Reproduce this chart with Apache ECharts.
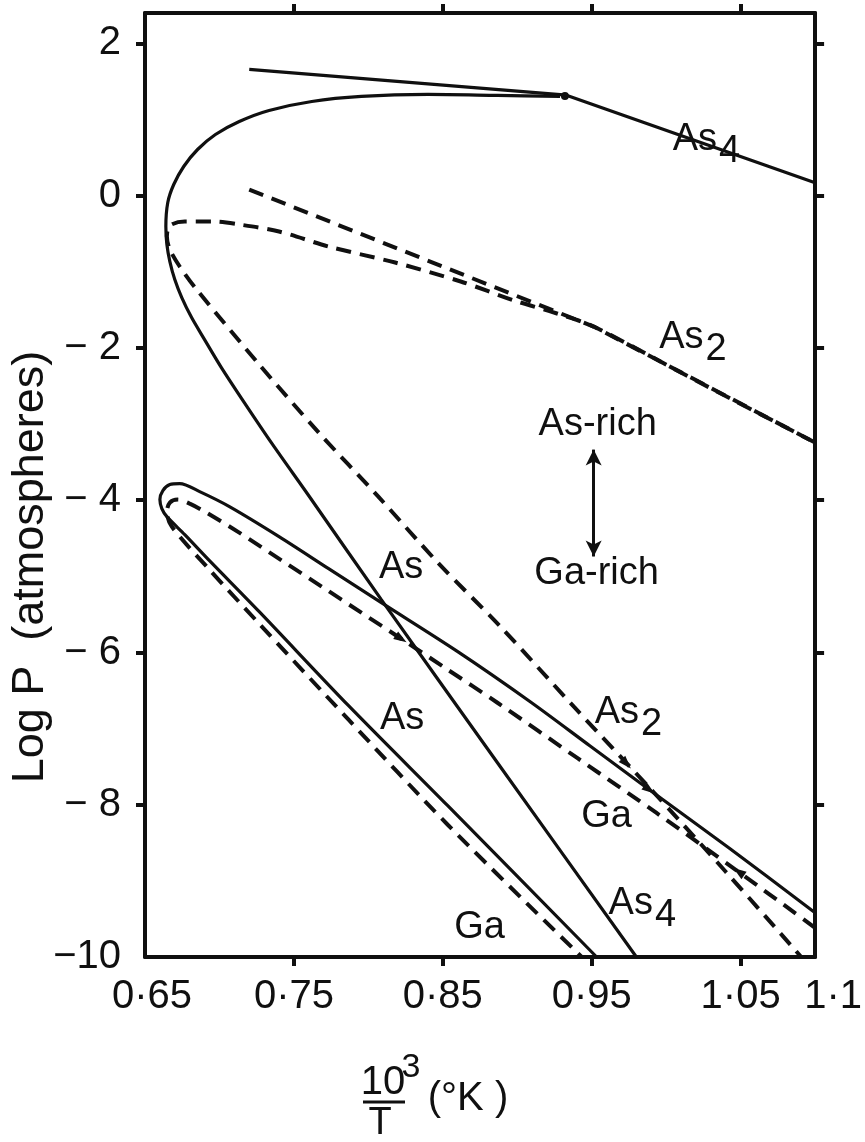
<!DOCTYPE html>
<html>
<head>
<meta charset="utf-8">
<script src="https://cdn.jsdelivr.net/npm/echarts@6/dist/echarts.min.js"></script>
<style>
  html, body { margin: 0; padding: 0; background: #fff; }
  #main { width: 865px; height: 1142px; }
</style>
</head>
<body>
<div id="main"></div>
<script>
// axis ticks / labels
var xLabelValues = [0.65, 0.75, 0.85, 0.95, 1.05, 1.1];
var xLabelTexts = ['0·65', '0·75', '0·85', '0·95', '1·05', '1·1'];
var xTickValues = [0.75, 0.85, 0.95, 1.05];
var yLabelValues = [-10, -8, -6, -4, -2, 0, 2];
var yTickValues = [-8, -6, -4, -2, 0, 2];

// As-rich side
var as4Tangent = [[0.72, 1.66], [0.933, 1.32], [1.1, 0.17]];
var as4Curve = [
    [0.9287, 1.304], [0.8867, 1.317], [0.84, 1.330], [0.7953, 1.304], [0.762, 1.238],
    [0.7333, 1.120], [0.7133, 0.975], [0.6973, 0.804], [0.6853, 0.607], [0.676, 0.384],
    [0.6693, 0.147], [0.6653, -0.089], [0.664, -0.405], [0.6647, -0.641], [0.6667, -0.865],
    [0.67, -1.101], [0.6747, -1.338], [0.6813, -1.601], [0.69, -1.890], [0.7013, -2.258],
    [0.7167, -2.718], [0.7353, -3.257], [0.76, -3.941], [0.8087, -5.306], [0.8867, -7.448],
    [0.98, -10.0]
];
var junction = [[0.932, 1.31]];
var as2Upper = [[0.72, 0.081], [0.9513, -1.719], [1.1, -3.243]];
var as2Curve = [
    [1.1, -3.243], [1.02, -2.428], [0.9513, -1.719], [0.9267, -1.547], [0.898, -1.377],
    [0.862, -1.127], [0.818, -0.878], [0.7733, -0.668], [0.74, -0.470], [0.7133, -0.378],
    [0.6953, -0.339], [0.6767, -0.339], [0.6667, -0.392], [0.6647, -0.536], [0.6667, -0.707],
    [0.6733, -0.930], [0.6847, -1.233], [0.7267, -2.218], [0.7667, -3.112], [0.8067, -3.953],
    [0.8467, -4.820], [0.8887, -5.661], [0.938, -6.712], [0.99, -7.803], [1.04, -8.880],
    [1.0907, -10.0]
];
// Ga-rich loop
var loopSolid = [
    [1.1, -9.419], [1.042, -8.565], [0.9887, -7.803], [0.9487, -7.225], [0.9087, -6.647],
    [0.86, -5.989], [0.8087, -5.346], [0.7733, -4.899], [0.74, -4.478], [0.7067, -4.084],
    [0.6867, -3.887], [0.6733, -3.782], [0.6667, -3.795], [0.662, -3.874], [0.66, -3.992],
    [0.6613, -4.110], [0.6647, -4.216], [0.6767, -4.452], [0.6933, -4.794], [0.7267, -5.464],
    [0.7867, -6.699], [0.8533, -8.013], [0.9533, -10.0]
];
var loopDashed = [
    [1.1, -9.616], [1.0467, -8.854], [0.9933, -8.105], [0.94, -7.382], [0.8867, -6.660],
    [0.8533, -6.226], [0.822, -5.819], [0.7953, -5.477], [0.7687, -5.135], [0.742, -4.794],
    [0.7133, -4.426], [0.6913, -4.163], [0.68, -4.045], [0.672, -3.992], [0.6667, -4.032],
    [0.6647, -4.150], [0.668, -4.347], [0.6933, -4.912], [0.7267, -5.622], [0.7867, -6.883],
    [0.8533, -8.263], [0.9433, -10.0]
];
// small arrow heads drawn on the curves: [x, y, turn in degrees]
var arrowHeads = [
    [0.822, -5.819, -123],
    [0.9733, -7.46, -137],
    [0.9887, -7.803, -126],
    [1.0487, -8.88, 55]
];

// text on the plot: [x, y, text]
var notes = [
    [1.027, 0.74, '{t|As}{s|4}'],
    [1.018, -1.86, '{t|As}{s|2}'],
    [0.954, -3.007, '{t|As-rich}'],
    [0.9533, -4.965, '{t|Ga-rich}'],
    [0.822, -4.886, '{t|As}'],
    [0.8227, -6.87, '{t|As}'],
    [0.9747, -6.79, '{t|As}{s|2}'],
    [0.96, -8.16, '{t|Ga}'],
    [0.8747, -9.616, '{t|Ga}'],
    [0.984, -9.30, '{t|As}{s|4}']
];
var richArrow = [[0.9513, -3.335], [0.9513, -4.739]];

var INK = '#101010';
var FONT = 'Liberation Sans';

var myChart = echarts.init(document.getElementById('main'));

function xFmt(v) {
    for (var i = 0; i < xLabelValues.length; i++) {
        if (Math.abs(xLabelValues[i] - v) < 1e-9) {
            if (i == 0) return '{l|' + xLabelTexts[i] + '}';
            if (i == xLabelValues.length - 1) return '{r|' + xLabelTexts[i] + '}';
            return '{n|' + xLabelTexts[i] + '}';
        }
    }
    return '';
}
function yFmt(v) {
    if (v == -10) return '−10';
    if (v < 0) return '− ' + (-v);
    return '' + v;
}

var frameLine = { show: true, onZero: false, lineStyle: { color: INK, width: 4 } };
var lblStyle = { fontSize: 40, color: INK, fontFamily: FONT };

function solid(data, sm) {
    return { type: 'line', data: data, symbol: 'none', smooth: sm, xAxisIndex: 0, yAxisIndex: 0,
        lineStyle: { color: INK, width: 3.2 } };
}
function dashed(data, sm) {
    return { type: 'line', data: data, symbol: 'none', smooth: sm, xAxisIndex: 0, yAxisIndex: 0,
        lineStyle: { color: INK, width: 4, type: [15, 9] } };
}

option = {
    backgroundColor: '#ffffff',
    animation: false,
    grid: { left: 145, right: 45, top: 13, bottom: 185 },
    xAxis: [
        {
            type: 'value', min: 0.65, max: 1.1, position: 'bottom',
            axisLine: frameLine,
            axisTick: { show: true, customValues: xTickValues, length: 9, lineStyle: { color: INK, width: 4 } },
            axisLabel: {
                customValues: xLabelValues, formatter: xFmt, margin: 20,
                rich: {
                    n: lblStyle,
                    l: { fontSize: 40, color: INK, fontFamily: FONT, padding: [0, 0, 0, 14] },
                    r: { fontSize: 40, color: INK, fontFamily: FONT, padding: [0, 0, 0, 36] }
                }
            },
            splitLine: { show: false }
        },
        {
            type: 'value', min: 0.65, max: 1.1, position: 'top',
            axisLine: frameLine,
            axisTick: { show: true, customValues: xTickValues, length: 9, lineStyle: { color: INK, width: 4 } },
            axisLabel: { show: false },
            splitLine: { show: false }
        }
    ],
    yAxis: [
        {
            type: 'value', min: -10, max: 2.4, position: 'left',
            axisLine: frameLine,
            axisTick: { show: true, customValues: yTickValues, length: 9, lineStyle: { color: INK, width: 4 } },
            axisLabel: { customValues: yLabelValues, formatter: yFmt, margin: 24,
                fontSize: 40, color: INK, fontFamily: FONT },
            splitLine: { show: false }
        },
        {
            type: 'value', min: -10, max: 2.4, position: 'right',
            axisLine: frameLine,
            axisTick: { show: true, customValues: yTickValues, length: 9, lineStyle: { color: INK, width: 4 } },
            axisLabel: { show: false },
            splitLine: { show: false }
        }
    ],
    series: [
        solid(as4Tangent, false),
        solid(as4Curve, 0.3),
        dashed(as2Upper, false),
        dashed(as2Curve, 0.3),
        solid(loopSolid, 0.3),
        dashed(loopDashed, 0.3),
        {
            type: 'scatter', data: junction, symbol: 'circle', symbolSize: 8,
            itemStyle: { color: INK, opacity: 1 }
        },
        {
            type: 'scatter', data: arrowHeads, symbol: 'triangle', symbolSize: [9, 13],
            symbolRotate: function (val) { return val[2]; },
            itemStyle: { color: INK, opacity: 1 }
        },
        {
            type: 'scatter',
            data: notes,
            symbolSize: 0,
            itemStyle: { opacity: 1 },
            label: {
                show: true, position: 'inside',
                formatter: function (p) { return p.data[2]; },
                rich: {
                    t: { fontSize: 38, color: INK, fontFamily: FONT },
                    s: { fontSize: 38, color: INK, fontFamily: FONT, padding: [24, 0, 0, 2] }
                }
            },
            markLine: {
                silent: true,
                symbol: ['arrow', 'arrow'],
                symbolSize: [12, 16],
                label: { show: false },
                lineStyle: { type: 'solid', color: INK, width: 3, opacity: 1 },
                data: [[{ coord: richArrow[0] }, { coord: richArrow[1] }]]
            }
        }
    ],
    graphic: [
        { type: 'text', x: 31, y: 567, rotation: Math.PI / 2,
          style: { text: 'Log P  (atmospheres)', fontSize: 45, fill: INK, fontFamily: FONT,
                   align: 'center', verticalAlign: 'middle' } },
        { type: 'text', x: 383, y: 1083,
          style: { text: '10', fontSize: 40, fill: INK, fontFamily: FONT, align: 'center', verticalAlign: 'middle' } },
        { type: 'text', x: 411, y: 1068,
          style: { text: '3', fontSize: 34, fill: INK, fontFamily: FONT, align: 'center', verticalAlign: 'middle' } },
        { type: 'line', shape: { x1: 363, y1: 1102, x2: 405, y2: 1102 }, style: { stroke: INK, lineWidth: 3 } },
        { type: 'text', x: 380, y: 1124,
          style: { text: 'T', fontSize: 38, fill: INK, fontFamily: FONT, align: 'center', verticalAlign: 'middle' } },
        { type: 'text', x: 468, y: 1099,
          style: { text: '(°K )', fontSize: 40, fill: INK, fontFamily: FONT, align: 'center', verticalAlign: 'middle' } }
    ]
};

myChart.setOption(option);
</script>
</body>
</html>
